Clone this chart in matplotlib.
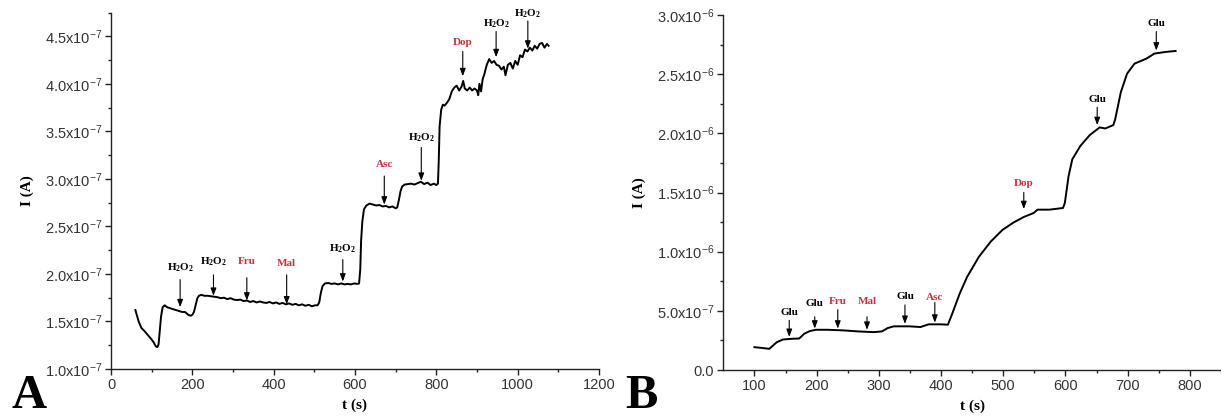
import matplotlib
matplotlib.use("Agg")
import matplotlib.pyplot as plt
from matplotlib.ticker import FixedLocator, FuncFormatter
import numpy as np

plt.rcParams['mathtext.fontset'] = 'custom'
plt.rcParams['mathtext.rm'] = 'Liberation Sans'
plt.rcParams['mathtext.it'] = 'Liberation Sans:italic'
plt.rcParams['mathtext.bf'] = 'Liberation Serif:bold'
plt.rcParams['font.family'] = 'Liberation Sans'

RED = '#c8323c'

# ---------------- Panel A data (I in units of 1e-7 A) ----------------
t_a = [60, 68, 75, 82, 90, 98, 105, 110, 114, 117, 120, 123, 127, 132, 138, 145, 152, 160, 167, 175,
       182, 190, 196, 200, 204, 208, 212, 216, 222, 230, 238, 246, 254, 262, 270, 278, 286, 294, 302, 310,
       318, 326, 334, 342, 350, 358, 366, 374, 382, 390, 398, 406, 414, 422, 430, 438, 446, 454, 462, 470,
       478, 486, 494, 502, 508, 512, 516, 520, 526, 534, 542, 550, 558, 566, 574, 582, 590, 598, 606, 610,
       613, 615, 618, 622, 628, 636, 644, 652, 660, 668, 676, 684, 692, 700, 704, 708, 712, 716, 722, 730,
       738, 746, 754, 762, 770, 778, 786, 794, 800, 804, 806, 808, 812, 816, 820, 826, 832, 838, 844, 850,
       856, 862, 866, 870, 876, 882, 888, 894, 900, 903, 906, 910, 914, 918, 924, 930, 936, 942, 948, 954,
       960, 966, 970, 976, 982, 988, 994, 1000, 1006, 1012, 1018, 1024, 1030, 1036, 1042, 1048, 1054, 1060,
       1066, 1072, 1076]
i_a = [1.62, 1.50, 1.43, 1.40, 1.36, 1.32, 1.28, 1.24, 1.23, 1.26, 1.40, 1.55, 1.65, 1.67, 1.65, 1.64, 1.63, 1.62, 1.61, 1.60,
       1.60, 1.57, 1.56, 1.57, 1.60, 1.67, 1.74, 1.77, 1.78, 1.77, 1.77, 1.765, 1.76, 1.755, 1.745, 1.75, 1.735, 1.745, 1.73, 1.725,
       1.73, 1.715, 1.72, 1.705, 1.715, 1.70, 1.71, 1.70, 1.695, 1.705, 1.69, 1.70, 1.685, 1.695, 1.68, 1.69, 1.675, 1.685, 1.67, 1.68,
       1.665, 1.675, 1.66, 1.67, 1.67, 1.70, 1.80, 1.87, 1.90, 1.905, 1.895, 1.90, 1.89, 1.90, 1.89, 1.895, 1.89, 1.90, 1.895, 1.90,
       2.05, 2.35, 2.55, 2.68, 2.72, 2.74, 2.73, 2.72, 2.725, 2.71, 2.715, 2.70, 2.71, 2.69, 2.70, 2.78, 2.87, 2.92, 2.94, 2.945,
       2.95, 2.94, 2.955, 2.97, 2.945, 2.96, 2.935, 2.95, 2.935, 2.95, 3.20, 3.55, 3.73, 3.78, 3.77, 3.80, 3.84, 3.92, 3.96, 3.98,
       3.93, 3.97, 4.03, 3.95, 3.93, 3.96, 3.93, 3.95, 3.93, 3.88, 4.00, 3.92, 4.05, 4.10, 4.20, 4.26, 4.22, 4.24, 4.20, 4.19,
       4.15, 4.18, 4.09, 4.20, 4.22, 4.16, 4.24, 4.20, 4.30, 4.28, 4.36, 4.34, 4.38, 4.35, 4.40, 4.37, 4.42, 4.43,
       4.38, 4.42, 4.40]

# annotations A: position, text y, arrow start, arrow tip (1e-7 A)
ann_a_t = [170, 252, 334, 432, 570, 672, 763, 865, 947, 1025]
ann_a_label = ['H2O2', 'H2O2', 'Fru', 'Mal', 'H2O2', 'Asc', 'H2O2', 'Dop', 'H2O2', 'H2O2']
ann_a_text_y = [2.07, 2.13, 2.13, 2.11, 2.27, 3.15, 3.43, 4.43, 4.63, 4.74]
ann_a_from = [1.94, 1.99, 1.96, 1.99, 2.15, 3.03, 3.33, 4.34, 4.55, 4.66]
ann_a_to = [1.65, 1.77, 1.72, 1.68, 1.92, 2.73, 2.98, 4.08, 4.28, 4.37]

# ---------------- Panel B data (I in units of 1e-6 A) ----------------
t_b = [100, 111, 124, 127, 136, 146, 161, 172, 180, 189, 199, 217, 242, 267, 292, 305, 314, 324, 349, 367,
       380, 399, 411, 418, 430, 442, 461, 480, 499, 517, 533, 549, 555, 574, 596, 599, 605, 611, 624, 639,
       655, 664, 677, 680, 689, 699, 711, 730, 743, 761, 777]
i_b = [0.193, 0.187, 0.179, 0.193, 0.235, 0.258, 0.264, 0.266, 0.306, 0.329, 0.340, 0.340, 0.335, 0.326, 0.320, 0.326, 0.354, 0.369, 0.369, 0.363,
       0.386, 0.386, 0.383, 0.476, 0.646, 0.788, 0.958, 1.086, 1.185, 1.248, 1.293, 1.327, 1.355, 1.355, 1.369, 1.412, 1.639, 1.781, 1.894, 1.985,
       2.050, 2.041, 2.070, 2.121, 2.348, 2.504, 2.589, 2.631, 2.674, 2.688, 2.696]

ann_b_t = [156, 197, 234, 281, 342, 390, 533, 651, 746]
ann_b_label = ['Glu', 'Glu', 'Fru', 'Mal', 'Glu', 'Asc', 'Dop', 'Glu', 'Glu']
ann_b_text_y = [0.49, 0.56, 0.58, 0.58, 0.62, 0.615, 1.58, 2.29, 2.93]
ann_b_from = [0.42, 0.45, 0.51, 0.45, 0.55, 0.57, 1.50, 2.22, 2.86]
ann_b_to = [0.28, 0.35, 0.35, 0.34, 0.39, 0.40, 1.36, 2.07, 2.70]

# ticks
xa_major = [0, 200, 400, 600, 800, 1000, 1200]
xa_minor = [100, 300, 500, 700, 900, 1100]
ya_major = [1.0, 1.5, 2.0, 2.5, 3.0, 3.5, 4.0, 4.5]
ya_minor = [1.25, 1.75, 2.25, 2.75, 3.25, 3.75, 4.25, 4.75]
xb_major = [100, 200, 300, 400, 500, 600, 700, 800]
xb_minor = [150, 250, 350, 450, 550, 650, 750, 850]
yb_major = [0.0, 0.5, 1.0, 1.5, 2.0, 2.5, 3.0]
yb_minor = [0.25, 0.75, 1.25, 1.75, 2.25, 2.75]
yb_labels = ['0.0', '5.0x10$^{-7}$', '1.0x10$^{-6}$', '1.5x10$^{-6}$', '2.0x10$^{-6}$',
             '2.5x10$^{-6}$', '3.0x10$^{-6}$']

fig = plt.figure(figsize=(12.21, 4.20), dpi=100)
axA = fig.add_axes([111 / 1221, 1 - 369 / 420, (599 - 111) / 1221, (369 - 12.5) / 420])
axB = fig.add_axes([723.3 / 1221, 1 - 370 / 420, (1221 - 723.3) / 1221, (370 - 15) / 420])


def style(ax):
    for s in ['top', 'right']:
        ax.spines[s].set_visible(False)
    for s in ['left', 'bottom']:
        ax.spines[s].set_linewidth(1.0)
        ax.spines[s].set_color('#222222')
    ax.tick_params(which='major', direction='out', length=4.5, width=1.0, color='#222222',
                   labelsize=10.5, labelcolor='#333333', pad=2)
    ax.tick_params(which='minor', direction='out', length=2.5, width=1.0, color='#222222')


def label_font(color):
    return dict(family='Liberation Serif', weight='bold', fontsize=8, color=color)


def lbl(s):
    if s == 'H2O2':
        return r'$\mathbf{H_2O_2}$'
    return s


def annotate(ax, ts, labels, ty, yf, yt, scale):
    for t, lab, y0, y1, y2 in zip(ts, labels, ty, yf, yt):
        col = RED if lab in ('Fru', 'Mal', 'Asc', 'Dop') else 'black'
        ax.text(t, y0 * scale, lbl(lab), ha='center', va='center', clip_on=False, **label_font(col))
        ax.annotate('', xy=(t, y2 * scale), xytext=(t, y1 * scale),
                    arrowprops=dict(arrowstyle='-|>,head_length=0.45,head_width=0.17',
                                    lw=0.8, color='black', shrinkA=0, shrinkB=0),
                    annotation_clip=False)


# Panel A
sa = 1e-7
axA.plot(t_a, np.array(i_a) * sa, color='black', lw=1.4)
axA.set_xlim(0, 1200)
axA.set_ylim(1.0e-7, 4.75e-7)
axA.xaxis.set_major_locator(FixedLocator(xa_major))
axA.xaxis.set_minor_locator(FixedLocator(xa_minor))
axA.yaxis.set_major_locator(FixedLocator([v * sa for v in ya_major]))
axA.yaxis.set_minor_locator(FixedLocator([v * sa for v in ya_minor]))
axA.yaxis.set_major_formatter(FuncFormatter(lambda v, p: '%.1fx10$^{-7}$' % (v / sa)))
style(axA)
annotate(axA, ann_a_t, ann_a_label, ann_a_text_y, ann_a_from, ann_a_to, sa)
axA.set_ylabel('I (A)', family='Liberation Serif', weight='bold', fontsize=11, labelpad=8)
axA.set_xlabel('t (s)', family='Liberation Serif', weight='bold', fontsize=11, labelpad=5)

# Panel B
sb = 1e-6
axB.plot(t_b, np.array(i_b) * sb, color='black', lw=1.4)
axB.set_xlim(50, 850)
axB.set_ylim(0, 3.0e-6)
axB.xaxis.set_major_locator(FixedLocator(xb_major))
axB.xaxis.set_minor_locator(FixedLocator(xb_minor))
axB.yaxis.set_major_locator(FixedLocator([v * sb for v in yb_major]))
axB.yaxis.set_minor_locator(FixedLocator([v * sb for v in yb_minor]))
axB.yaxis.set_major_formatter(FuncFormatter(lambda v, p: yb_labels[p] if p is not None and p < len(yb_labels) else ''))
style(axB)
annotate(axB, ann_b_t, ann_b_label, ann_b_text_y, ann_b_from, ann_b_to, sb)
axB.set_ylabel('I (A)', family='Liberation Serif', weight='bold', fontsize=11, labelpad=8)
axB.set_xlabel('t (s)', family='Liberation Serif', weight='bold', fontsize=11, labelpad=5)

fig.text(12 / 1221, 1 - 408 / 420, 'A', family='Liberation Serif', weight='bold', fontsize=35,
         ha='left', va='baseline')
fig.text(625 / 1221, 1 - 408 / 420, 'B', family='Liberation Serif', weight='bold', fontsize=35,
         ha='left', va='baseline')

fig.savefig('out.png', dpi=100)
